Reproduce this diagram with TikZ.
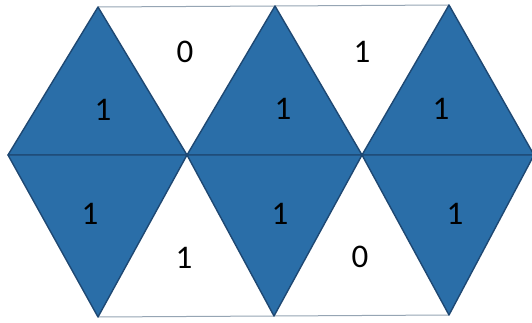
\documentclass[tikz,border=0pt]{standalone}
\usepackage{fontspec}
\setmainfont{Carlito}
\definecolor{tri}{RGB}{42,110,168}
\definecolor{triedge}{RGB}{30,72,115}
\definecolor{rim}{RGB}{150,165,180}
\tikzset{
  trishape/.style={fill=tri,draw=triedge,line width=1.4pt,line join=round},
  digit/.style={font=\fontsize{33}{33}\selectfont,text=black,inner sep=0pt},
  rimline/.style={draw=rim,line width=1pt}
}
\begin{document}
\begin{tikzpicture}[x=1pt,y=-1pt]
\useasboundingbox (0,0) rectangle (532,323);
\fill[white] (0,0) rectangle (532,323);
% vertices
\coordinate (L1) at (8,155);   \coordinate (T1) at (98,7);   \coordinate (B1) at (98,317);
\coordinate (L2) at (187,155); \coordinate (T2) at (275,6);  \coordinate (B2) at (274,316);
\coordinate (L3) at (362,155); \coordinate (T3) at (449,5);  \coordinate (B3) at (449,315);
\coordinate (R3) at (534,155);
% frame lines
\draw[rimline] (T1) -- (T2) -- (T3);
\draw[rimline] (B1) -- (B2) -- (B3);
% triangles
\draw[trishape] (L1) -- (T1) -- (L2) -- cycle;
\draw[trishape] (L1) -- (B1) -- (L2) -- cycle;
\draw[trishape] (L2) -- (T2) -- (L3) -- cycle;
\draw[trishape] (L2) -- (B2) -- (L3) -- cycle;
\draw[trishape] (L3) -- (T3) -- (R3) -- cycle;
\draw[trishape] (L3) -- (B3) -- (R3) -- cycle;
% labels
\node[digit] (a1) at (103,110) {1};
\node[digit] (a2) at (90,214) {1};
\node[digit] (b1) at (283,109) {1};
\node[digit] (b2) at (280,214) {1};
\node[digit] (c1) at (441,109) {1};
\node[digit] (c2) at (455,214) {1};
\node[digit] (u1) at (185,52) {0};
\node[digit] (u2) at (362,52) {1};
\node[digit] (d1) at (184,258) {1};
\node[digit] (d2) at (360,257) {0};
\end{tikzpicture}
\end{document}
